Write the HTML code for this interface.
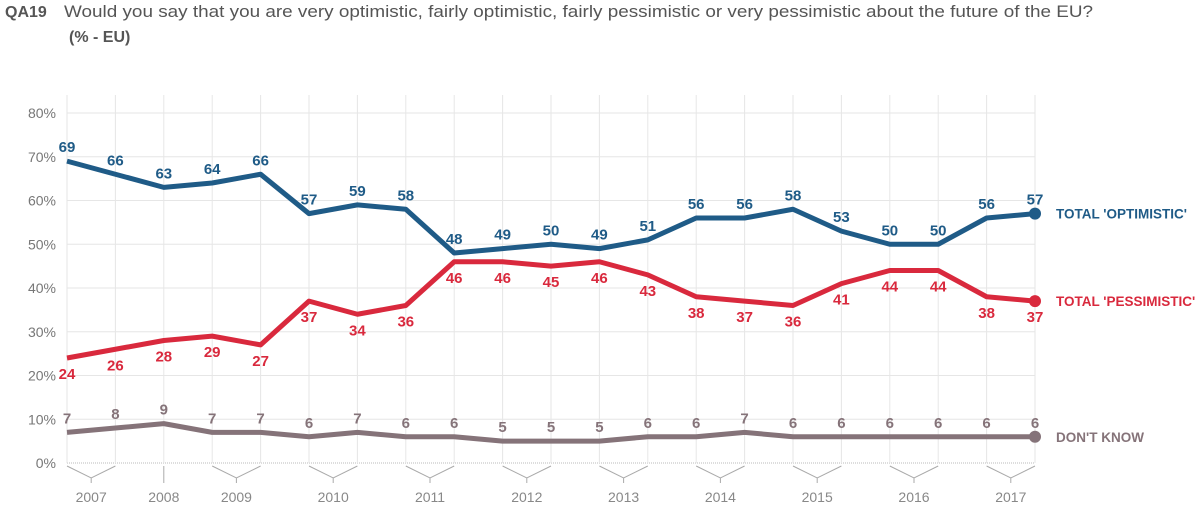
<!DOCTYPE html>
<html><head><meta charset="utf-8"><style>
body{margin:0;background:#fff;width:1200px;height:511px;overflow:hidden;font-family:"Liberation Sans",sans-serif}
</style></head><body>
<svg width="1200" height="511" xmlns="http://www.w3.org/2000/svg">
<text x="5" y="17" font-size="16" font-weight="bold" fill="#555">QA19</text>
<text x="64" y="17" font-size="17" fill="#555" textLength="1029" lengthAdjust="spacingAndGlyphs">Would you say that you are very optimistic, fairly optimistic, fairly pessimistic or very pessimistic about the future of the EU?</text>
<text x="69" y="42" font-size="16" font-weight="bold" fill="#555">(% - EU)</text>
<g id="grid"></g><g id="axes"></g><g id="series"></g>
</svg>
<script>
const years=['2007','2008','2009','2010','2011','2012','2013','2014','2015','2016','2017'];
const yearGroups=[[0,1],[2],[3,4],[5,6],[7,8],[9,10],[11,12],[13,14],[15,16],[17,18],[19,20]];
const optimistic=[69,66,63,64,66,57,59,58,48,49,50,49,51,56,56,58,53,50,50,56,57];
const pessimistic=[24,26,28,29,27,37,34,36,46,46,45,46,43,38,37,36,41,44,44,38,37];
const dontKnow=[7,8,9,7,7,6,7,6,6,5,5,5,6,6,7,6,6,6,6,6,6];
const yTicks=[0,10,20,30,40,50,60,70,80];
const NS="http://www.w3.org/2000/svg";
const x0=67,x1=1035,n=optimistic.length;
const xs=i=>x0+i*(x1-x0)/(n-1);
const ys=v=>463-v*43.75/10;
function mk(tag,attrs,parent,txt){const e=document.createElementNS(NS,tag);for(const k in attrs)e.setAttribute(k,attrs[k]);if(txt!==undefined)e.textContent=txt;parent.appendChild(e);return e;}
const grid=document.getElementById('grid'),axes=document.getElementById('axes'),ser=document.getElementById('series');
yTicks.forEach(t=>{
  const l=mk('line',{x1:x0,x2:x1,y1:ys(t),y2:ys(t),stroke:t===0?'#bbb':'#e6e6e6','stroke-width':1,'stroke-dasharray':t===0?'1,1':'none'},grid);
  
  
  const tx=mk('text',{x:56,y:ys(t)+5,'font-size':14,fill:'#777','text-anchor':'end'},axes,t+'%');
  
  
});
for(let i=0;i<n;i++){
  const l=mk('line',{x1:xs(i),x2:xs(i),y1:95,y2:463,stroke:'#e6e6e6','stroke-width':1},grid);
  
  
}
yearGroups.forEach((g,k)=>{
  let cx;
  if(g.length===2){
    const a=xs(g[0]),b=xs(g[1]);cx=(a+b)/2;
    const p=mk('path',{d:`M${a} 466 L${cx} 478 L${b} 466 M${cx} 478 L${cx} 483`,stroke:'#aaa',fill:'none','stroke-width':1},axes);
    
    
  }else{
    cx=xs(g[0]);
    const p=mk('line',{x1:cx,x2:cx,y1:466,y2:483,stroke:'#aaa','stroke-width':1},axes);
    
    
  }
  const t=mk('text',{x:cx,y:502,'font-size':14,fill:'#888','text-anchor':'middle'},axes,years[k]);
  
  
});
function series(data,color,name,label,above){
  const pts=data.map((v,i)=>xs(i)+','+ys(v)).join(' ');
  const pl=mk('polyline',{points:pts,fill:'none',stroke:color,'stroke-width':5,'stroke-linejoin':'round'},ser);
  
  
  const c=mk('circle',{cx:xs(n-1),cy:ys(data[n-1]),r:6,fill:color},ser);
  
  
  data.forEach((v,i)=>{
    const t=mk('text',{x:xs(i),y:above?ys(v)-9:ys(v)+21,'font-size':15,'font-weight':'bold',fill:color,'text-anchor':'middle'},ser,v);
    
    
  });
  const lg=mk('text',{x:1056,y:ys(data[n-1])+5,'font-size':13.5,'font-weight':'bold',fill:color},ser,label);
  
  
}
series(optimistic,'#1f5b87','optimistic',"TOTAL 'OPTIMISTIC'",true);
series(pessimistic,'#d9293d','pessimistic',"TOTAL 'PESSIMISTIC'",false);
series(dontKnow,'#857379','dont-know',"DON'T KNOW",true);
</script>
</body></html>
